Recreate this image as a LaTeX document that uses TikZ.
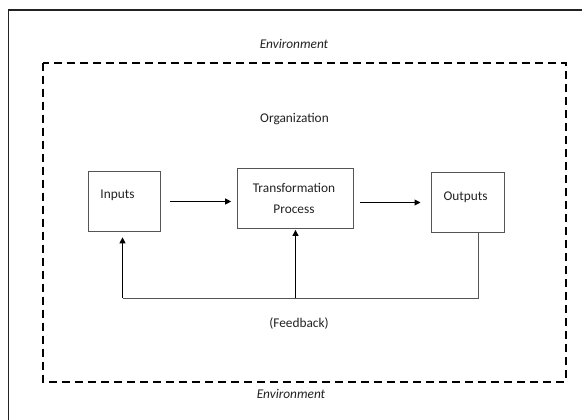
\documentclass[tikz,border=0pt]{standalone}
\usepackage{fontspec}
\setmainfont{Carlito}
\usetikzlibrary{arrows.meta}
\definecolor{ink}{HTML}{222222}
\definecolor{boxline}{HTML}{555555}
\begin{document}
\begin{tikzpicture}[x=0.75pt,y=-0.75pt,
  every node/.style={font=\fontsize{10}{16}\selectfont, text=ink},
  blockbox/.style={draw=boxline, line width=0.8pt, inner sep=0pt},
  lbl/.style={inner sep=0pt},
  flow/.style={draw=black, line width=0.75pt, -{Triangle[length=4.5pt,width=4.5pt]}},
  fbline/.style={draw=boxline, line width=0.75pt},
  envbox/.style={draw=black, line width=1.5pt, dash pattern=on 6pt off 3.75pt},
  frame/.style={draw=ink, line width=1.1pt}]
\useasboundingbox (0,0) rectangle (582,420);
\fill[white] (0,0) rectangle (582,420);

% outer frame (open towards the right and bottom edges)
\draw[frame] (8.5,420) -- (8.5,10) -- (582,10);

% organization boundary
\draw[envbox] (43.3,62.7) rectangle (565.7,381.7);

% labels
\node[lbl, font=\fontsize{10}{12}\selectfont\itshape] (envtop) at (294,43.5) {Environment};
\node[lbl, font=\fontsize{10}{12}\selectfont\itshape] (envbot) at (291,393.5) {Environment};
\node[lbl] (org) at (294.5,119.5) {Organization};
\node[lbl] (fbtext) at (299,323.5) {(Feedback)};

% blocks
\node[blockbox, minimum width=72.7*0.75pt, minimum height=59.4*0.75pt] (in) at (124.6,201.5) {};
\node[blockbox, minimum width=116*0.75pt, minimum height=60*0.75pt] (tp) at (295.3,198.3) {};
\node[blockbox, minimum width=72.6*0.75pt, minimum height=60*0.75pt] (op) at (468,202.5) {};

\node[lbl] (intext) at (117.5,195) {Inputs};
\node[lbl, align=center] (tptext) at (294,198.3) {Transformation\\Process};
\node[lbl] (optext) at (465.5,197.7) {Outputs};

% forward flow
\draw[flow, shorten <=6.75pt, shorten >=4.2pt] (in.east) -- (in.east -| tp.west);
\draw[flow, shorten <=4.5pt, shorten >=8pt] (op.west -| tp.east) -- (op.west);

% feedback loop
\coordinate (fbR) at (478.5,298.5);
\coordinate (fbM) at (295.5,298.5);
\coordinate (fbL) at (122.5,298.5);
\draw[fbline] (op.south -| fbR) -- (fbR) -- (fbL);
\draw[flow, shorten >=4.2pt] (fbL) -- (fbL |- in.south);
\draw[flow, shorten >=0.8pt] (fbM) -- (fbM |- tp.south);
\end{tikzpicture}
\end{document}
